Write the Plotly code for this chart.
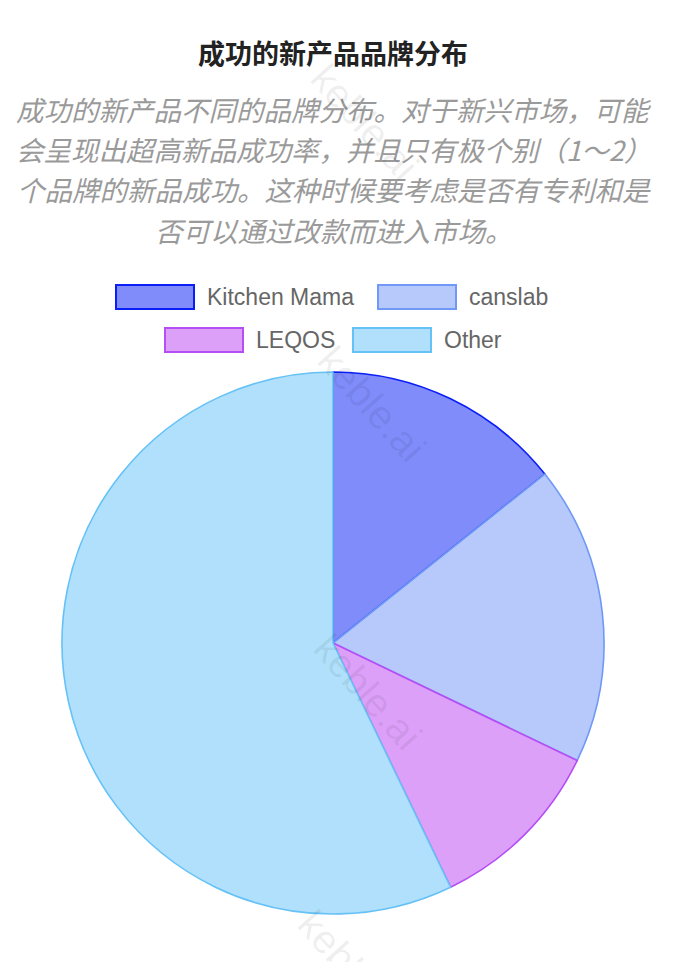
import plotly.graph_objects as go

# ---- data ----
labels = ["Kitchen Mama", "canslab", "LEQOS", "Other"]
values = [4, 5, 3, 16]
fill_colors = ["#7f8cfa", "#b7c9fb", "#dca0f9", "#b0e0fb"]
line_colors = ["#0a1ef5", "#6f98f7", "#b54ef4", "#66c1f6"]

title_text = "成功的新产品品牌分布"
subtitle_lines = [
    "成功的新产品不同的品牌分布。对于新兴市场，可能",
    "会呈现出超高新品成功率，并且只有极个别（1～2）",
    "个品牌的新品成功。这种时候要考虑是否有专利和是",
    "否可以通过改款而进入市场。",
]
watermark = "keble.ai"

W, H = 694, 962
OFF = 8  # page body margin
def px(x): return (x - OFF) / W
def py(y): return 1 - (y - OFF) / H

fig = go.Figure()
fig.add_trace(go.Pie(
    labels=labels, values=values, sort=False, direction="clockwise", rotation=0,
    marker=dict(colors=fill_colors, line=dict(color=line_colors, width=1.6)),
    textinfo="none", hoverinfo="label+value+percent", showlegend=False,
    domain=dict(x=[px(333 - 271), px(333 + 271)], y=[py(914), py(372)]),
))

annotations = []
shapes = []
# title
annotations.append(dict(text="<b>" + title_text + "</b>", x=px(333), y=py(52), xref="paper", yref="paper",
                        showarrow=False, xanchor="center", yanchor="middle",
                        font=dict(family="Noto Sans CJK SC", size=27, color="#222222")))
# subtitle
sub_y = [109, 149, 189, 230]
for line, yy in zip(subtitle_lines, sub_y):
    annotations.append(dict(text="<i>" + line + "</i>", x=px(334), y=py(yy), xref="paper", yref="paper",
                            showarrow=False, xanchor="center", yanchor="middle",
                            font=dict(family="Noto Sans CJK SC", size=27.5, color="#9a9a9a")))

# legend (custom wide boxes)
legend_pos = [(116, 297), (378, 297), (165, 340), (353, 340)]
for lab, fc, lc, (lx, ly) in zip(labels, fill_colors, line_colors, legend_pos):
    shapes.append(dict(type="rect", xref="paper", yref="paper",
                       x0=px(lx), x1=px(lx + 78), y0=py(ly + 12), y1=py(ly - 12),
                       fillcolor=fc, line=dict(color=lc, width=2)))
    annotations.append(dict(text=lab, x=px(lx + 89), y=py(ly), xref="paper", yref="paper",
                            showarrow=False, xanchor="left", yanchor="middle",
                            font=dict(family="Liberation Sans", size=23, color="#666666")))

# watermarks
for (wx, wy) in [(365, 122), (372, 404), (368, 692), (352, 968)]:
    annotations.append(dict(text=watermark, x=px(wx), y=py(wy), xref="paper", yref="paper",
                            showarrow=False, textangle=48, xanchor="center", yanchor="middle",
                            font=dict(family="Liberation Sans", size=40, color="rgba(0,0,0,0.07)")))

fig.update_layout(
    width=W, height=H, margin=dict(l=0, r=0, t=0, b=0),
    paper_bgcolor="white", plot_bgcolor="white",
    annotations=annotations, shapes=shapes, showlegend=False,
)
fig.write_html("out.html")
